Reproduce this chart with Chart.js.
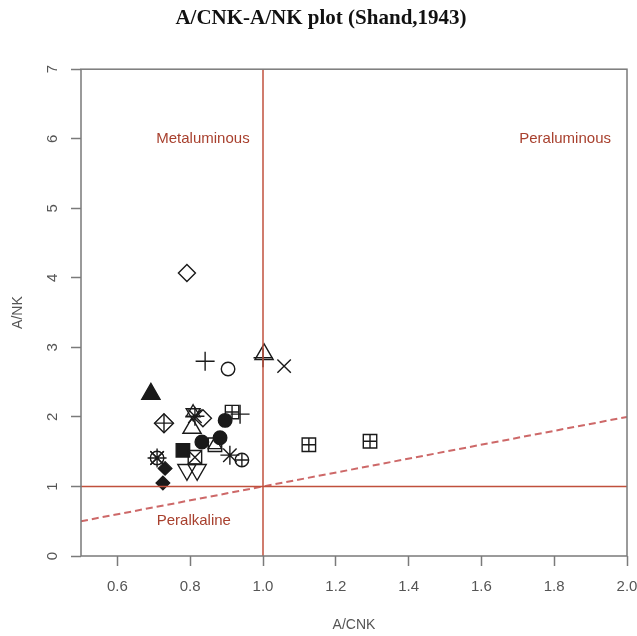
<!DOCTYPE html>
<html>
<head>
<meta charset="utf-8">
<title>A/CNK-A/NK plot</title>
<script src="https://cdn.jsdelivr.net/npm/chart.js@4.4.1/dist/chart.umd.min.js"></script>
<style>
  html, body { margin: 0; padding: 0; background: #fff; overflow: hidden; }
  #wrap { width: 650px; height: 636px; }
</style>
</head>
<body>
<div id="wrap"><canvas id="shand" width="650" height="636"></canvas></div>
<script>
// axis ticks
const xTicks = [0.6, 0.8, 1.0, 1.2, 1.4, 1.6, 1.8, 2.0];
const yTicks = [0, 1, 2, 3, 4, 5, 6, 7];

// samples (A/CNK, A/NK), grouped by the R symbol used for each one
const openCircle = [{ x: 0.904, y: 2.69 }];                                   // pch 1
const openTriangle = [{ x: 1.003, y: 2.90 }, { x: 0.805, y: 1.84 }];          // pch 2
const plusMark = [{ x: 0.841, y: 2.80 }, { x: 1.0, y: 2.85 }, { x: 0.937, y: 2.04 }]; // pch 3
const crossMark = [{ x: 1.058, y: 2.73 }];                                    // pch 4
const openDiamond = [{ x: 0.791, y: 4.07 }, { x: 0.835, y: 1.98 }];           // pch 5
const downTriangle = [{ x: 0.791, y: 1.24 }, { x: 0.819, y: 1.24 }];          // pch 6
const squareCross = [{ x: 0.813, y: 1.42 }];                                  // pch 7
const asterisk = [{ x: 0.813, y: 2.01 }, { x: 0.909, y: 1.45 }, { x: 0.709, y: 1.41 }]; // pch 8
const diamondPlus = [{ x: 0.728, y: 1.91 }];                                  // pch 9
const circlePlus = [{ x: 0.942, y: 1.38 }];                                   // pch 10
const davidStar = [{ x: 0.808, y: 2.06 }];                                    // pch 11
const squarePlus = [{ x: 0.915, y: 2.07 }, { x: 1.126, y: 1.60 }, { x: 1.294, y: 1.65 }]; // pch 12
const circleCross = [{ x: 0.709, y: 1.41 }];                                  // pch 13
const squareTriangle = [{ x: 0.868, y: 1.60 }];                               // pch 14
const solidSquare = [{ x: 0.780, y: 1.52 }];                                  // pch 15
const solidCircle = [{ x: 0.896, y: 1.95 }, { x: 0.832, y: 1.64 }, { x: 0.882, y: 1.70 }]; // pch 16
const solidTriangle = [{ x: 0.692, y: 2.33 }];                                // pch 17
const solidDiamond = [{ x: 0.731, y: 1.26 }, { x: 0.725, y: 1.05 }];          // pch 18

// field boundaries: A/CNK = 1, A/NK = 1 and A/NK = A/CNK
const xRange = [0.5, 2.0];
const yRange = [0, 7];

// field names and where they sit (data units)
const fieldNames = ['Metaluminous', 'Peraluminous', 'Peralkaline'];
const fieldX = [0.835, 1.83, 0.81];
const fieldY = [6.0, 6.0, 0.5];

const ink = '#1a1a1a';
const red = '#c0503c';
const frameGrey = '#7a7a7a';
const tickGrey = '#555';
const sans = '"Liberation Sans", Arial, sans-serif';

function sym(data, style, radius, extra) {
  return Object.assign({
    data: data,
    showLine: false,
    pointStyle: style,
    pointRadius: radius,
    pointBorderColor: ink,
    pointBackgroundColor: 'rgba(0,0,0,0)',
    pointBorderWidth: 1.4,
    order: 2
  }, extra || {});
}
function solid(data, style, radius) {
  return sym(data, style, radius, { pointBackgroundColor: ink });
}

const datasets = [
  sym(openCircle, 'circle', 6.75),
  sym(openTriangle, 'triangle', 10.5),
  sym(plusMark, 'cross', 9.5),
  sym(crossMark, 'crossRot', 9.5),
  sym(openDiamond, 'rectRot', 8.5),
  sym(downTriangle, 'triangle', 10.5, { pointRotation: 180 }),
  sym(squareCross, 'rect', 9.5),
  sym(squareCross, 'crossRot', 9.5),
  sym(asterisk, 'star', 9.5),
  sym(diamondPlus, 'rectRot', 9.5),
  sym(diamondPlus, 'cross', 9.5),
  sym(circlePlus, 'circle', 6.75),
  sym(circlePlus, 'cross', 6.75),
  sym(davidStar, 'triangle', 8),
  sym(davidStar, 'triangle', 8, { pointRotation: 180 }),
  sym(squarePlus, 'rect', 9.5),
  sym(squarePlus, 'cross', 6.75),
  sym(circleCross, 'circle', 6.75),
  sym(circleCross, 'crossRot', 9.5),
  sym(squareTriangle, 'rect', 9.5),
  sym(squareTriangle, 'triangle', 7.8),
  solid(solidSquare, 'rect', 9.5),
  solid(solidCircle, 'circle', 6.75),
  solid(solidTriangle, 'triangle', 10.5),
  solid(solidDiamond, 'rectRot', 6.75),

  // boundary lines
  {
    data: [{ x: 1, y: yRange[0] }, { x: 1, y: yRange[1] }],
    showLine: true, pointRadius: 0, borderColor: red, borderWidth: 1.5, order: 1
  },
  {
    data: [{ x: xRange[0], y: 1 }, { x: xRange[1], y: 1 }],
    showLine: true, pointRadius: 0, borderColor: red, borderWidth: 1.5, order: 1
  },
  {
    data: xRange.map(v => ({ x: v, y: v })),
    showLine: true, pointRadius: 0, borderColor: 'rgba(200,88,88,0.9)', borderWidth: 2,
    borderDash: [7, 4], order: 1
  }
];

// box round the plot and the field names
const fieldText = {
  id: 'fieldText',
  afterDatasetsDraw(chart) {
    const { ctx, chartArea: a, scales: { x, y } } = chart;
    ctx.save();
    ctx.strokeStyle = frameGrey;
    ctx.lineWidth = 1.5;
    ctx.strokeRect(a.left, a.top, a.right - a.left, a.bottom - a.top);
    ctx.font = '15px ' + sans;
    ctx.fillStyle = '#a8402e';
    ctx.textAlign = 'center';
    ctx.textBaseline = 'middle';
    fieldNames.forEach((t, i) => {
      ctx.fillText(t, x.getPixelForValue(fieldX[i]), y.getPixelForValue(fieldY[i]));
    });
    ctx.restore();
  }
};

const config = {
  type: 'scatter',
  data: { datasets: datasets },
  options: {
    responsive: false,
    animation: false,
    events: [],
    devicePixelRatio: 1,
    // left padding only shifts the title a little to the right, as in the original
    layout: { padding: { left: 15, right: 23, top: 0, bottom: 0 } },
    plugins: {
      legend: { display: false },
      tooltip: { enabled: false },
      title: {
        display: true,
        text: 'A/CNK-A/NK plot (Shand,1943)',
        color: '#111',
        font: { family: '"Liberation Serif", "Times New Roman", serif', size: 21, weight: 'bold' },
        padding: { top: 6, bottom: 38 }
      }
    },
    scales: {
      x: {
        type: 'linear',
        min: xRange[0],
        max: xRange[1],
        afterBuildTicks: s => { s.ticks = xTicks.map(v => ({ value: v })); },
        afterFit: s => { s.height = 80; },
        ticks: { callback: v => Number(v).toFixed(1), color: tickGrey, font: { family: sans, size: 15 }, padding: 12 },
        grid: { drawOnChartArea: false, drawTicks: true, tickLength: 10, tickColor: frameGrey, tickWidth: 1.5 },
        border: { display: false },
        title: { display: true, text: 'A/CNK', color: tickGrey, font: { family: sans, size: 14 }, padding: { top: 0, bottom: 2 } }
      },
      y: {
        type: 'linear',
        min: yRange[0],
        max: yRange[1],
        afterBuildTicks: s => { s.ticks = yTicks.map(v => ({ value: v })); },
        afterFit: s => { s.width = 66; },
        ticks: { color: tickGrey, font: { family: sans, size: 15 }, minRotation: 90, maxRotation: 90, crossAlign: 'center', padding: 14 },
        grid: { drawOnChartArea: false, drawTicks: true, tickLength: 10, tickColor: frameGrey, tickWidth: 1.5 },
        border: { display: false },
        title: { display: true, text: 'A/NK', color: tickGrey, font: { family: sans, size: 14 }, padding: { top: -5, bottom: 0 } }
      }
    }
  },
  plugins: [fieldText]
};

const ctx = document.getElementById('shand').getContext('2d');
window.shandChart = new Chart(ctx, config);
</script>
</body>
</html>
